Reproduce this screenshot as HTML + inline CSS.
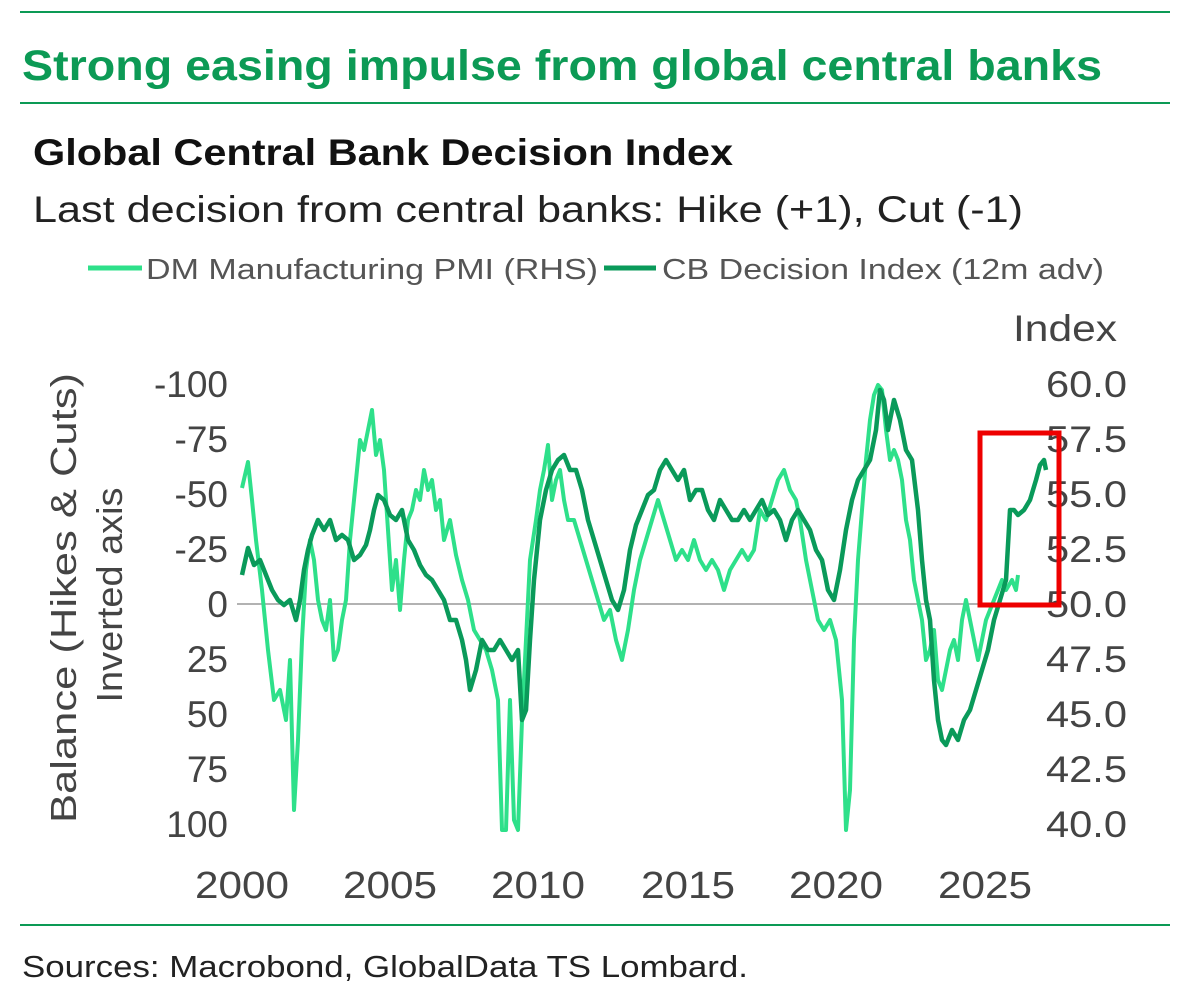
<!DOCTYPE html>
<html><head><meta charset="utf-8"><style>
body{margin:0;background:#fff;}
svg{display:block;font-family:"Liberation Sans",sans-serif;}
</style></head><body>
<svg width="1194" height="999" viewBox="0 0 1194 999">
<line x1="20" y1="12" x2="1170" y2="12" stroke="#0c9a55" stroke-width="2"/>
<text x="22" y="80" font-size="43" font-weight="bold" fill="#0c9a55" textLength="1080" lengthAdjust="spacingAndGlyphs">Strong easing impulse from global central banks</text>
<line x1="20" y1="103" x2="1170" y2="103" stroke="#0c9a55" stroke-width="2"/>
<text x="33" y="165" font-size="37" font-weight="bold" fill="#111" textLength="700" lengthAdjust="spacingAndGlyphs">Global Central Bank Decision Index</text>
<text x="33" y="222" font-size="37" fill="#222" textLength="990" lengthAdjust="spacingAndGlyphs">Last decision from central banks: Hike (+1), Cut (-1)</text>
<line x1="88" y1="268" x2="142" y2="268" stroke="#2ee08a" stroke-width="5"/>
<text x="146" y="279" font-size="29" fill="#555" textLength="452" lengthAdjust="spacingAndGlyphs">DM Manufacturing PMI (RHS)</text>
<line x1="604" y1="268" x2="656" y2="268" stroke="#0a9a5a" stroke-width="5"/>
<text x="662" y="279" font-size="29" fill="#555" textLength="442" lengthAdjust="spacingAndGlyphs">CB Decision Index (12m adv)</text>
<text x="1013" y="341" font-size="37" fill="#444" textLength="104" lengthAdjust="spacingAndGlyphs">Index</text>
<g font-size="37" fill="#444" text-anchor="end">
<text x="228" y="397">-100</text><text x="228" y="452">-75</text><text x="228" y="507">-50</text><text x="228" y="562">-25</text><text x="228" y="617">0</text><text x="228" y="672">25</text><text x="228" y="727">50</text><text x="228" y="782">75</text><text x="228" y="837">100</text>
</g>
<g font-size="37" fill="#444">
<text x="1046" y="397" textLength="81" lengthAdjust="spacingAndGlyphs">60.0</text><text x="1046" y="452" textLength="81" lengthAdjust="spacingAndGlyphs">57.5</text><text x="1046" y="507" textLength="81" lengthAdjust="spacingAndGlyphs">55.0</text><text x="1046" y="562" textLength="81" lengthAdjust="spacingAndGlyphs">52.5</text><text x="1046" y="617" textLength="81" lengthAdjust="spacingAndGlyphs">50.0</text><text x="1046" y="672" textLength="81" lengthAdjust="spacingAndGlyphs">47.5</text><text x="1046" y="727" textLength="81" lengthAdjust="spacingAndGlyphs">45.0</text><text x="1046" y="782" textLength="81" lengthAdjust="spacingAndGlyphs">42.5</text><text x="1046" y="837" textLength="81" lengthAdjust="spacingAndGlyphs">40.0</text>
</g>
<g font-size="38" fill="#444">
<text x="195" y="898" textLength="94" lengthAdjust="spacingAndGlyphs">2000</text><text x="343" y="898" textLength="94" lengthAdjust="spacingAndGlyphs">2005</text><text x="491" y="898" textLength="94" lengthAdjust="spacingAndGlyphs">2010</text><text x="641" y="898" textLength="94" lengthAdjust="spacingAndGlyphs">2015</text><text x="789" y="898" textLength="94" lengthAdjust="spacingAndGlyphs">2020</text><text x="938" y="898" textLength="94" lengthAdjust="spacingAndGlyphs">2025</text>
</g>
<g font-size="36" fill="#444" text-anchor="middle">
<text transform="translate(76,598) rotate(-90)" textLength="450" lengthAdjust="spacingAndGlyphs">Balance (Hikes &amp; Cuts)</text>
<text transform="translate(122,595) rotate(-90)" textLength="215" lengthAdjust="spacingAndGlyphs">Inverted axis</text>
</g>
<line x1="237" y1="604" x2="1040" y2="604" stroke="#999" stroke-width="1.5"/>
<polyline fill="none" stroke="#2ee08a" stroke-width="4" stroke-linejoin="round" points="242,488 248,462 252,500 256,540 262,590 268,650 274,700 280,690 286,720 290,660 294,810 298,740 302,640 306,570 310,540 314,560 318,600 322,620 326,630 330,600 334,660 338,650 342,620 346,600 350,540 356,480 360,440 364,450 368,430 372,410 376,455 380,440 384,470 388,530 392,590 396,560 400,610 404,560 408,520 412,510 416,490 420,500 424,470 428,490 432,480 436,510 440,500 444,540 450,520 456,555 462,580 468,600 474,630 480,640 486,650 492,670 498,700 502,830 506,830 510,700 514,820 518,830 522,720 526,640 530,560 536,520 540,490 544,470 548,445 552,500 556,480 560,470 564,500 568,520 574,520 580,540 586,560 592,580 598,600 604,620 610,610 616,640 622,660 628,630 634,590 640,560 646,540 652,520 658,500 664,520 670,540 676,560 682,550 688,560 694,540 700,560 706,570 712,560 718,570 724,590 730,570 736,560 742,550 748,560 754,550 760,510 766,520 772,500 778,480 784,470 790,490 796,500 800,520 806,560 812,590 818,620 824,630 830,620 836,640 842,700 846,830 850,790 854,640 858,560 862,510 866,460 870,420 874,395 878,385 882,390 886,430 890,460 894,450 898,460 902,480 906,520 910,540 914,580 918,600 922,620 926,660 930,650 934,630 938,680 942,690 946,670 950,650 954,640 958,660 962,620 966,600 970,620 974,640 978,660 982,640 986,620 990,610 994,600 998,590 1002,580 1006,590 1012,580 1016,590 1018,575"/>
<polyline fill="none" stroke="#0a9a5a" stroke-width="4.5" stroke-linejoin="round" points="242,575 248,548 254,565 260,560 266,575 272,590 278,600 284,605 290,600 296,620 300,600 304,570 308,550 312,535 318,520 324,530 330,520 336,540 342,535 348,540 354,560 360,555 366,545 370,530 374,510 378,495 384,500 390,515 396,520 402,510 408,540 414,550 420,565 426,575 432,580 438,590 444,600 450,620 456,620 462,640 466,660 470,690 476,670 482,640 488,650 494,650 500,640 506,650 512,660 518,650 522,720 526,710 530,640 534,580 540,520 546,490 552,470 558,460 564,455 570,470 576,470 582,490 588,520 594,540 600,560 606,580 612,600 618,610 624,590 630,550 636,525 642,510 648,495 654,490 660,470 666,460 672,470 678,480 684,470 690,500 696,490 702,490 708,510 714,520 720,500 726,510 732,520 738,520 744,510 750,520 756,510 762,500 768,515 774,510 780,520 786,540 792,520 798,510 804,520 810,530 816,550 822,560 828,590 834,600 840,570 846,530 852,500 858,480 864,470 870,460 876,430 880,390 884,400 888,430 894,400 900,420 906,450 912,460 918,510 922,560 926,600 930,620 934,680 938,720 942,740 946,745 952,730 958,740 964,720 970,710 976,690 982,670 988,650 994,620 1000,600 1006,580 1010,510 1014,510 1018,515 1024,510 1030,500 1036,480 1040,465 1044,460 1046,470"/>
<rect x="980" y="433" width="79" height="172" fill="none" stroke="#ee0000" stroke-width="5"/>
<line x1="20" y1="925" x2="1170" y2="925" stroke="#0c9a55" stroke-width="2"/>
<text x="22" y="977" font-size="31" fill="#222" textLength="726" lengthAdjust="spacingAndGlyphs">Sources: Macrobond, GlobalData TS Lombard.</text>
</svg>
</body></html>
